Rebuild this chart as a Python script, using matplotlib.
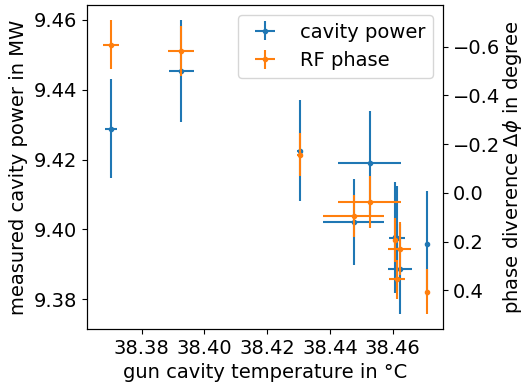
import matplotlib as mpl
mpl.use('Agg')
import matplotlib.pyplot as plt

#
#--- gun cavity temperature (degree C) for each measurement
#
temp       = [38.3703, 38.3926, 38.4305, 38.4476, 38.4527, 38.4607, 38.4614, 38.4623, 38.4709]
#
#--- cavity power (MW) with errors
#
power      = [9.4288, 9.4454, 9.4225, 9.4022, 9.4190, 9.3977, 9.3975, 9.3886, 9.3959]
power_err  = [0.0142, 0.0146, 0.0144, 0.0123, 0.0149, 0.0160, 0.0150, 0.0129, 0.0151]
temp_err_p = [0.0019, 0.0040, 0.0010, 0.0098, 0.0100, 0.0003, 0.0025, 0.0038, 0.0000]
#
#--- RF phase difference (degree) with errors
#
phase      = [-0.609, -0.582, -0.157, 0.097, 0.038, 0.195, 0.356, 0.229, 0.407]
phase_err  = [0.102, 0.102, 0.088, 0.086, 0.106, 0.090, 0.080, 0.110, 0.092]
temp_err_f = [0.0026, 0.0042, 0.0010, 0.0098, 0.0100, 0.0003, 0.0025, 0.0037, 0.0000]

mpl.rcParams['font.size'] = 14

fig = plt.figure(figsize=(5.26, 3.89), dpi=100)
ax1 = fig.add_axes([0.1654, 0.1542, 0.6768, 0.8329])
ax2 = ax1.twinx()

p1 = ax1.errorbar(temp, power, yerr=power_err, xerr=temp_err_p, fmt='.',
                  color='C0', label='cavity power')
p2 = ax2.errorbar(temp, phase, yerr=phase_err, xerr=temp_err_f, fmt='.',
                  color='C1', label='RF phase')
ax2.invert_yaxis()

ax1.set_xlabel('gun cavity temperature in °C')
ax1.set_ylabel('measured cavity power in MW')
ax2.set_ylabel(r'phase diverence $\Delta\phi$ in degree', labelpad=1)

ax2.legend([p1, p2], ['cavity power', 'RF phase'], loc='upper right')

plt.savefig('out.png', dpi=100)
